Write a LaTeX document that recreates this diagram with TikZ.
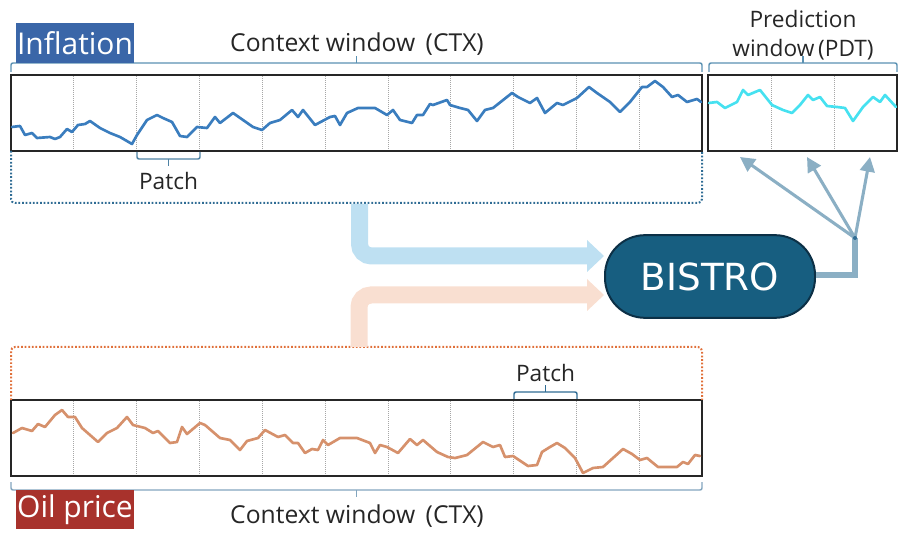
\documentclass[tikz,border=0pt]{standalone}
\usepackage{fontspec}
\setmainfont{Open Sans}
\newfontfamily\bistrofont{DejaVu Sans}
\usetikzlibrary{arrows.meta}
\definecolor{txtgray}{RGB}{38,38,38}
\definecolor{inflblue}{RGB}{58,102,168}
\definecolor{oilred}{RGB}{168,50,44}
\definecolor{serblue}{RGB}{58,125,190}
\definecolor{sercyan}{RGB}{70,225,240}
\definecolor{serorange}{RGB}{214,145,108}
\definecolor{dotblue}{RGB}{47,108,148}
\definecolor{dotorange}{RGB}{224,112,58}
\definecolor{bracecol}{RGB}{90,145,178}
\definecolor{bracelight}{RGB}{130,165,190}
\definecolor{bandblue}{RGB}{190,224,242}
\definecolor{bandorange}{RGB}{249,223,209}
\definecolor{bistrofill}{RGB}{23,94,128}
\definecolor{bistroedge}{RGB}{12,48,70}
\definecolor{outcol}{RGB}{139,175,196}
\begin{document}
\begin{tikzpicture}[x=0.75pt,y=-0.75pt,
  serbox/.style={draw=black!85, line width=1.9pt, inner sep=0pt, outer sep=0pt},
  divider/.style={draw=black!35, line width=0.5pt, densely dotted},
  lbl/.style={font=\fontsize{17}{20}\selectfont, text=txtgray, inner sep=0pt},
  biglbl/.style={font=\fontsize{18.5}{21}\selectfont, text=txtgray, inner sep=0pt},
  series/.style={line width=2pt, line join=round, line cap=round},
  bracestyle/.style={draw=bracecol, line width=1.1pt, rounded corners=1.5pt},
  dotbr/.style={line width=1.5pt, dash pattern=on 1.3pt off 1.4pt, rounded corners=3pt},
  band/.style={line width=12.75pt, rounded corners=9pt},
  outc/.style={draw=outcol},
  tagbox/.style={inner sep=0pt, outer sep=0pt, text=white, font=\fontsize{22.5}{25}\selectfont}
]
\useasboundingbox (0,0) rectangle (903,534);

% ---------- boxes ----------
\node[serbox, minimum width=518.25pt, minimum height=57pt] (ctx) at (356.5,113) {};
\node[serbox, minimum width=141.75pt, minimum height=57pt] (pdt) at (802.5,113) {};
\node[serbox, minimum width=518.25pt, minimum height=57pt] (ctxb) at (356.5,438) {};

\foreach \i in {1,...,10}{
  \draw[divider] (11+62.82*\i,76) -- (11+62.82*\i,150);
  \draw[divider] (11+62.82*\i,401) -- (11+62.82*\i,475);
}
\foreach \xx in {771,834}{ \draw[divider] (\xx,76) -- (\xx,150); }

% ---------- series ----------
\draw[series, serblue] (12,127)--(20,126)--(25,135)--(32,133)--(37,138)--(50,137)--(55,139)--(60,137)--(67,129)--(72,132)--(78,125)--(85,124)--(90,121)--(100,128)--(110,133)--(120,137)--(132,144)--(137,135)--(147,120)--(157,115)--(163,118)--(172,122)--(180,136)--(187,137)--(197,127)--(207,128)--(215,117)--(220,123)--(233,113)--(243,120)--(253,127)--(262,130)--(270,123)--(280,120)--(292,110)--(298,117)--(303,110)--(315,125)--(330,117)--(335,116)--(340,125)--(347,113)--(358,108)--(375,108)--(387,115)--(393,110)--(400,120)--(412,123)--(417,115)--(423,115)--(430,104)--(433,105)--(447,100)--(450,105)--(460,108)--(468,110)--(477,121)--(485,110)--(493,108)--(512,93)--(518,97)--(530,103)--(537,98)--(545,113)--(557,103)--(563,105)--(577,98)--(589,87)--(597,93)--(610,102)--(620,112)--(630,102)--(642,87)--(647,87)--(655,81)--(663,87)--(672,97)--(678,95)--(687,102)--(697,99)--(701,102);
\draw[series, sercyan] (709,103)--(717,102)--(725,108)--(737,102)--(743,90)--(748,95)--(760,90)--(772,105)--(783,110)--(792,113)--(800,105)--(808,95)--(813,100)--(820,97)--(827,106)--(837,107)--(845,108)--(853,121)--(863,107)--(873,97)--(880,102)--(885,95)--(896,107);
\draw[series, serorange] (13,433)--(22,428)--(32,431)--(38,424)--(45,427)--(55,415)--(62,410)--(68,417)--(75,417)--(82,428)--(98,442)--(107,433)--(117,428)--(127,417)--(133,425)--(145,428)--(153,433)--(158,431)--(170,443)--(177,442)--(182,427)--(187,434)--(200,423)--(205,425)--(220,438)--(230,440)--(240,450)--(247,441)--(258,438)--(265,430)--(278,437)--(285,435)--(293,443)--(298,443)--(305,453)--(312,449)--(318,450)--(323,440)--(328,445)--(340,438)--(357,438)--(370,443)--(375,453)--(380,445)--(387,447)--(398,453)--(410,439)--(417,445)--(423,440)--(437,452)--(448,457)--(455,458)--(467,455)--(483,442)--(493,447)--(500,445)--(505,457)--(513,456)--(528,466)--(537,465)--(542,452)--(550,447)--(557,443)--(565,448)--(575,458)--(583,473)--(593,468)--(603,467)--(623,449)--(632,454)--(640,460)--(647,458)--(658,467)--(677,467)--(683,462)--(688,464)--(695,455)--(700,456);

% ---------- braces ----------
\draw[bracestyle] (11,72) |- (702,63) -- (702,72);
\draw[bracestyle] (356.5,63) -- (356.5,56);
\draw[bracestyle] (709,72) |- (897,63) -- (897,72);
\draw[bracestyle] (803,63) -- (803,56);
\draw[bracestyle, draw=dotblue!85] (137,152) |- (200,159) -- (200,152);
\draw[bracestyle, draw=dotblue!85] (168.5,159) -- (168.5,166);
\draw[bracestyle, draw=bracelight] (11,482) |- (702,490) -- (702,482);
\draw[bracestyle, draw=bracelight] (356.5,490) -- (356.5,497);
\draw[bracestyle, draw=dotblue] (514,399) |- (577,392) -- (577,399);
\draw[bracestyle, draw=dotblue] (545.5,392) -- (545.5,385);

% ---------- dotted brackets ----------
\draw[dotbr, dotblue] (ctx.south west) -- ++(0,52) -| (ctx.south east);
\draw[dotbr, dotorange] (ctxb.north west) -- ++(0,-53) -| (ctxb.north east);

% ---------- BISTRO ----------
\node[draw=bistroedge, fill=bistrofill, line width=1.5pt, rounded corners=30pt,
      minimum width=157.5pt, minimum height=62pt, text=white,
      font=\bistrofont\fontsize{28}{31}\selectfont] (bistro) at (710,276.5) {BISTRO};

% ---------- input bands ----------
\coordinate (bt) at (359.5,204);
\coordinate (bb) at (359,347);
\draw[band, bandblue] (bt) |- (588,256);
\fill[bandblue] (587,240) -- (bistro.west |- 0,256) -- (587,272) -- cycle;
\draw[band, bandorange] (bb) |- (588,295);
\fill[bandorange] (587,279) -- (bistro.west |- 0,295) -- (587,311) -- cycle;

% ---------- output ----------
\coordinate (hub) at (855,238);
\draw[outc, line width=4.5pt] (bistro.east |- 0,275) -| (hub);
\foreach \tx in {740,807,870}{
  \draw[outc, line width=2.3pt, -{Triangle[length=11pt,width=11pt]}] (hub) -- (\tx,157);
}
\fill[dotblue] (hub) circle (1.5pt);

% ---------- labels ----------
\node[tagbox, fill=inflblue, minimum width=88.5pt, minimum height=30pt] (infl) at (75,43) {Inflation};
\node[tagbox, fill=oilred, minimum width=88.5pt, minimum height=29pt] (oil) at (75,509.5) {Oil price};
\node[biglbl] (ctxlbl) at (357,44) {Context window\, (CTX)};
\node[biglbl] (ctxlblb) at (357,516) {Context window\, (CTX)};
\node[lbl] (patch1) at (168.5,181) {Patch};
\node[lbl] (patch2) at (545.5,373) {Patch};
\node[lbl] (pred1) at (803,19) {Prediction};
\node[lbl] (pred2) at (803,50) {window\,(PDT)};
\end{tikzpicture}
\end{document}
